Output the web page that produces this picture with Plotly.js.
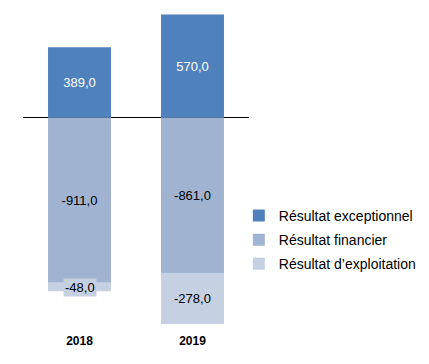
<!DOCTYPE html>
<html><head><meta charset="utf-8">
<script src="https://cdn.plot.ly/plotly-3.0.1.min.js"></script>
<style>html,body{margin:0;padding:0;background:#fff}</style>
</head><body>
<div id="chart" style="width:429px;height:364px"></div>
<script>
const years = ['2018', '2019'];
const exceptionnel = [389.0, 570.0];
const financier = [-911.0, -861.0];
const exploitation = [-48.0, -278.0];
const seriesNames = ['Résultat exceptionnel', 'Résultat financier', "Résultat d’exploitation"];
const colors = ['#4F81BD', '#A0B3D1', '#C5D0E3'];

const fmt = v => v.toFixed(1).replace('.', ',');
const font = 'Liberation Sans, Arial, sans-serif';

function trace(vals, i, textColor, showText) {
  return {
    type: 'bar', x: years, y: vals, name: seriesNames[i],
    marker: {color: colors[i], line: {width: 0}},
    text: showText ? vals.map(fmt) : vals.map(() => ''),
    textposition: 'inside', insidetextanchor: 'middle', constraintext: 'none',
    textfont: {color: textColor, size: 13, family: font},
    hoverinfo: 'none', legendgroup: 'g' + i
  };
}
const data = [
  trace(exceptionnel, 0, '#FFFFFF', true),
  trace(financier, 1, '#000000', true),
  trace(exploitation, 2, '#000000', false)
];
const annotations = years.map((yr, j) => ({
  x: j, y: financier[j] + exploitation[j] / 2, xref: 'x', yref: 'y',
  xanchor: 'center', yanchor: 'middle',
  text: fmt(exploitation[j]), showarrow: false,
  font: {size: 13, color: '#000000', family: font},
  bgcolor: colors[2], borderpad: 1
}));

const layout = {
  width: 429, height: 364,
  margin: {l: 23, r: 180, t: 0, b: 29},
  paper_bgcolor: '#fff', plot_bgcolor: '#fff',
  barmode: 'relative', bargap: 0.443,
  showlegend: true,
  legend: {x: 0.955, xanchor: 'left', y: 0.284, yanchor: 'middle',
    font: {size: 14, family: font, color: '#000'},
    traceorder: 'grouped', tracegroupgap: 3, bgcolor: 'rgba(0,0,0,0)'},
  xaxis: {type: 'category', range: [-0.5, 1.5], showgrid: false, showline: false, ticks: '',
    ticklabelstandoff: -3,
    tickfont: {size: 12, family: font, color: '#000', weight: 'bold'}, fixedrange: true},
  yaxis: {range: [-1200, 650], showgrid: false, showticklabels: false, ticks: '',
    zeroline: true, zerolinecolor: '#000', zerolinewidth: 1.5, fixedrange: true},
  annotations: annotations,
  separators: ', '
};
Plotly.newPlot('chart', data, layout, {staticPlot: true, displayModeBar: false});
</script>
</body></html>
